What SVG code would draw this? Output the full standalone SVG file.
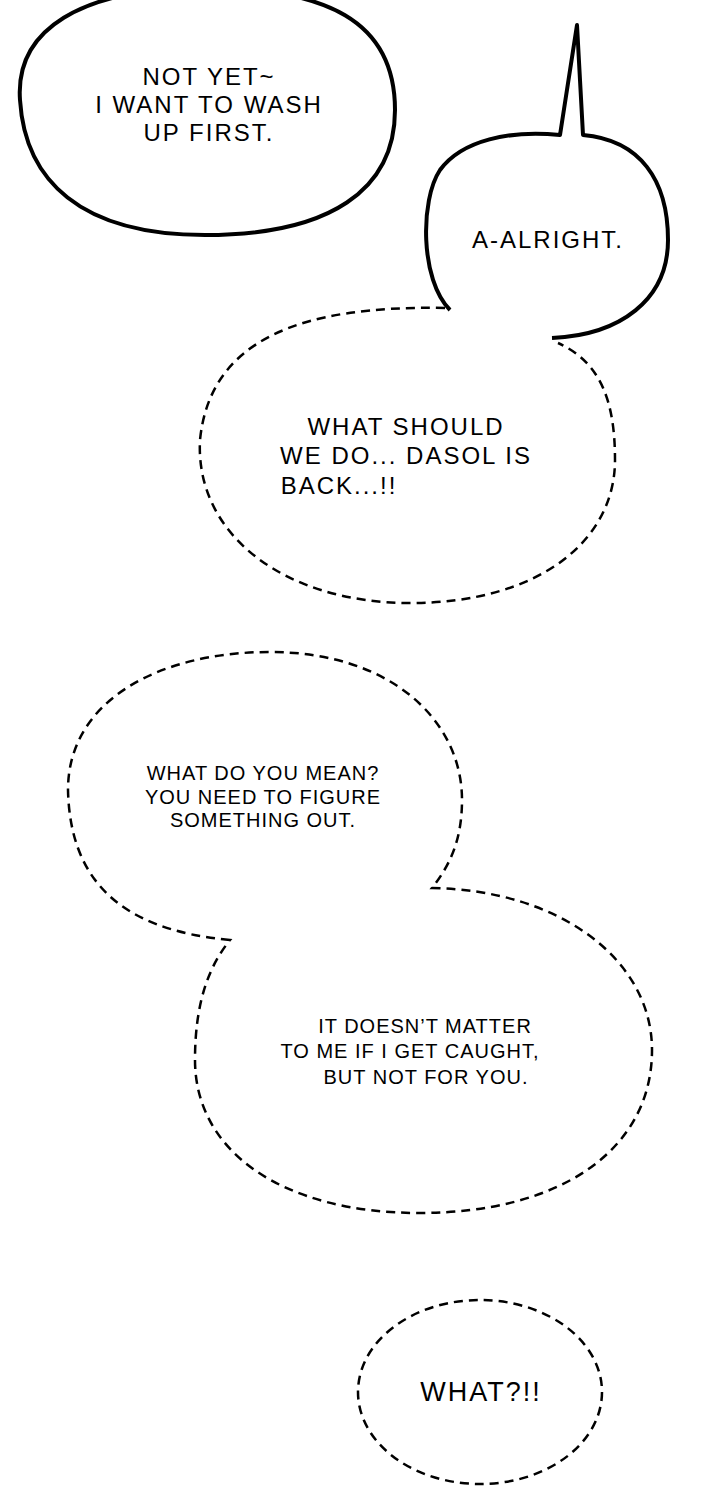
<svg xmlns="http://www.w3.org/2000/svg" width="720" height="1500" viewBox="0 0 720 1500">
<style>
.solid{fill:#fff;stroke:#000;stroke-width:4;stroke-linejoin:round}
.dash{fill:#fff;stroke:#000;stroke-width:2.5;stroke-dasharray:9 6}
.t{font-family:"Liberation Sans",Arial,sans-serif;text-anchor:middle;fill:#000}
.b{font-size:24px;letter-spacing:2px}
.s{font-size:20px;letter-spacing:1px}
</style>
<rect width="720" height="1500" fill="#fff"/>
<g id="bubble1">
<path class="solid" d="M20,100 C15,30 80,-12 205,-12 C325,-12 395,20 395,110 C395,190 330,235 205,235 C80,235 25,180 20,100 Z"/>
<text class="t b" x="209" y="85">NOT YET~</text>
<text class="t b" x="209" y="113">I WANT TO WASH</text>
<text class="t b" x="209" y="141">UP FIRST.</text>
</g>
<g id="bubble3">
<path class="dash" d="M445,308 C300,305 210,340 200,440 C195,535 285,603 410,603 C540,603 615,540 615,460 C615,400 600,362 558,343"/>
<text class="t b" x="406" y="435">WHAT SHOULD</text>
<text class="t b" x="406" y="464">WE DO... DASOL IS</text>
<text class="t b" x="339" y="494">BACK...!!</text>
</g>
<g id="bubble2">
<path class="solid" d="M450,310 C420,280 420,200 440,170 C462,140 510,130 560,135 L577,25 L583,135 C640,140 668,180 668,240 C668,300 620,335 552,338"/>
<text class="t b" x="548" y="248">A-ALRIGHT.</text>
</g>
<g id="bubble45">
<path class="dash" d="M230,940 C120,930 70,880 68,790 C68,700 160,652 270,652 C390,652 462,720 462,800 C462,840 450,865 432,888 C560,890 652,960 652,1050 C652,1150 560,1213 420,1213 C280,1213 195,1150 195,1060 C195,1000 210,965 230,940 Z"/>
<text class="t s" x="263" y="780">WHAT DO YOU MEAN?</text>
<text class="t s" x="263" y="804">YOU NEED TO FIGURE</text>
<text class="t s" x="263" y="827">SOMETHING OUT.</text>
<text class="t s" x="425" y="1033">IT DOESN’T MATTER</text>
<text class="t s" x="410" y="1058">TO ME IF I GET CAUGHT,</text>
<text class="t s" x="426" y="1084">BUT NOT FOR YOU.</text>
</g>
<g id="bubble6">
<ellipse class="dash" cx="480" cy="1392" rx="122" ry="92"/>
<text class="t b" x="481" y="1401" style="font-size:27px">WHAT?!!</text>
</g>
</svg>
